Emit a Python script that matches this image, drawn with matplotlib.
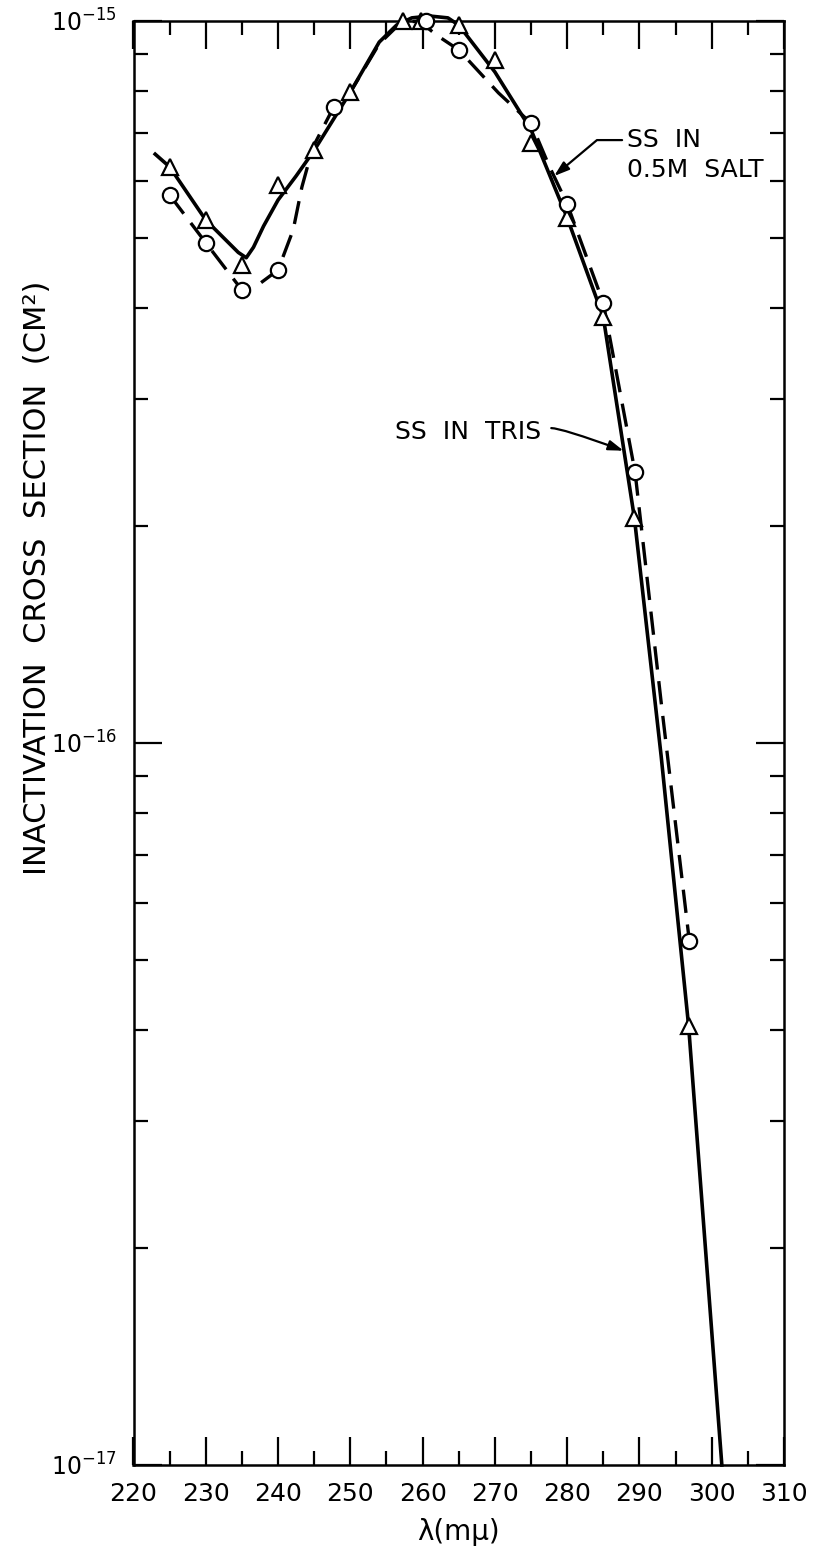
import numpy as np
import matplotlib
matplotlib.use("Agg")
import matplotlib.pyplot as plt
from matplotlib.ticker import FixedLocator, LogLocator, NullFormatter

# measured points, SS in Tris (triangles)
tris_wl = [225, 230, 235, 240, 245, 250, 257.3, 259.8, 265, 270, 275, 280, 285, 289.3, 296.8]
tris_cs = [6.28e-16, 5.30e-16, 4.59e-16, 5.93e-16, 6.62e-16, 7.97e-16, 1.0e-15, 1.0e-15,
           9.87e-16, 8.83e-16, 6.78e-16, 5.34e-16, 3.89e-16, 2.05e-16, 4.06e-17]

# measured points, SS in 0.5M salt (circles)
salt_wl = [225, 230, 235, 240, 247.7, 260.5, 265, 275, 280, 285, 289.4, 296.9]
salt_cs = [5.74e-16, 4.93e-16, 4.24e-16, 4.52e-16, 7.60e-16, 1.0e-15, 9.12e-16,
           7.22e-16, 5.58e-16, 4.07e-16, 2.37e-16, 5.32e-17]

# hand drawn curves
tris_curve_wl = [223.0, 225, 230, 234.5, 235.6, 236.6, 238, 240, 242.5, 245, 250, 254, 256.4,
                 258.5, 261, 263.5, 265, 270, 275, 280, 285, 289.3, 293, 296.8, 301.4]
tris_curve_cs = [6.54e-16, 6.28e-16, 5.30e-16, 4.78e-16, 4.70e-16, 4.86e-16, 5.20e-16,
                 5.65e-16, 6.10e-16, 6.62e-16, 7.97e-16, 9.35e-16, 9.87e-16, 1.01e-15,
                 1.016e-15, 1.01e-15, 9.87e-16, 8.50e-16, 7.07e-16, 5.34e-16, 3.89e-16,
                 2.05e-16, 9.6e-17, 4.06e-17, 1.0e-17]

salt_curve_wl = [225, 230, 235, 237.5, 240, 242.1, 243.3, 244.8, 247.7, 250, 254, 257,
                 259.5, 262, 265, 270.5, 275, 277.5, 280, 285, 289.4, 293, 296.9]
salt_curve_cs = [5.74e-16, 4.93e-16, 4.24e-16, 4.33e-16, 4.52e-16, 5.14e-16, 5.89e-16,
                 6.68e-16, 7.60e-16, 7.97e-16, 9.30e-16, 9.95e-16, 1.0e-15, 9.55e-16,
                 9.12e-16, 7.95e-16, 7.22e-16, 6.30e-16, 5.58e-16, 4.07e-16, 2.37e-16,
                 1.14e-16, 5.32e-17]

x_ticks = [220, 230, 240, 250, 260, 270, 280, 290, 300, 310]
y_ticks = [1e-17, 1e-16, 1e-15]
y_tick_labels = [r"$10^{-17}$", r"$10^{-16}$", r"$10^{-15}$"]

plt.rcParams['font.family'] = ['DejaVu Sans']
plt.rcParams['mathtext.default'] = 'regular'

fig = plt.figure(figsize=(8.15, 15.55), dpi=100)
ax = fig.add_axes([133.5 / 815, 1 - 1465 / 1555, (784 - 133.5) / 815, (1465 - 21) / 1555])

ax.plot(tris_curve_wl, tris_curve_cs, color='black', lw=2.6, clip_on=False, zorder=2)
ax.plot(salt_curve_wl, salt_curve_cs, color='black', lw=2.4, ls=(0, (7, 3.5)), clip_on=False, zorder=2)
ax.plot(tris_wl, tris_cs, ls='none', marker='^', ms=11, mfc='white', mec='black', mew=1.6,
        clip_on=False, zorder=3)
ax.plot(salt_wl, salt_cs, ls='none', marker='o', ms=11, mfc='white', mec='black', mew=1.6,
        clip_on=False, zorder=3)

ax.set_yscale('log')
ax.set_xlim(220, 310)
ax.set_ylim(1e-17, 1e-15)

ax.xaxis.set_major_locator(FixedLocator(x_ticks))
ax.xaxis.set_minor_locator(FixedLocator(list(range(225, 310, 10))))
ax.set_xticklabels([str(t) for t in x_ticks])
ax.yaxis.set_major_locator(FixedLocator(y_ticks))
ax.set_yticklabels(y_tick_labels)
ax.yaxis.set_minor_locator(LogLocator(base=10, subs=np.arange(2, 10)))
ax.yaxis.set_minor_formatter(NullFormatter())

ax.tick_params(which='both', direction='in', top=True, right=True, width=1.6, color='black')
ax.tick_params(which='major', length=20, labelsize=18, pad=12)
ax.tick_params(axis='y', which='major', labelsize=17, pad=12)
ax.tick_params(which='minor', length=10)
for s in ax.spines.values():
    s.set_linewidth(1.8)

ax.set_xlabel("λ(mμ)", fontsize=20, labelpad=9)
fig.text(38 / 815, 1 - 578 / 1555, "INACTIVATION  CROSS  SECTION  (CM²)", rotation=90,
         fontsize=22, ha='center', va='center')

# labels with arrows
ax.text(288.3, 6.84e-16, "SS  IN", fontsize=18, ha='left', va='center')
ax.text(288.3, 6.22e-16, "0.5M  SALT", fontsize=18, ha='left', va='center')
ax.annotate("", xy=(278.2, 6.1e-16), xytext=(287.6, 6.84e-16),
            arrowprops=dict(arrowstyle='-|>,head_length=0.9,head_width=0.3', color='black', lw=1.6,
                            connectionstyle='angle,angleA=0,angleB=40,rad=0', shrinkA=0, shrinkB=0))

ax.text(276.4, 2.70e-16, "SS  IN  TRIS", fontsize=18, ha='right', va='center')
ax.annotate("", xy=(287.8, 2.54e-16), xytext=(277.8, 2.73e-16),
            arrowprops=dict(arrowstyle='-|>,head_length=0.9,head_width=0.3', color='black', lw=1.6,
                            connectionstyle='angle3,angleA=0,angleB=-20', shrinkA=0, shrinkB=0))

fig.savefig("out.png", dpi=100)
